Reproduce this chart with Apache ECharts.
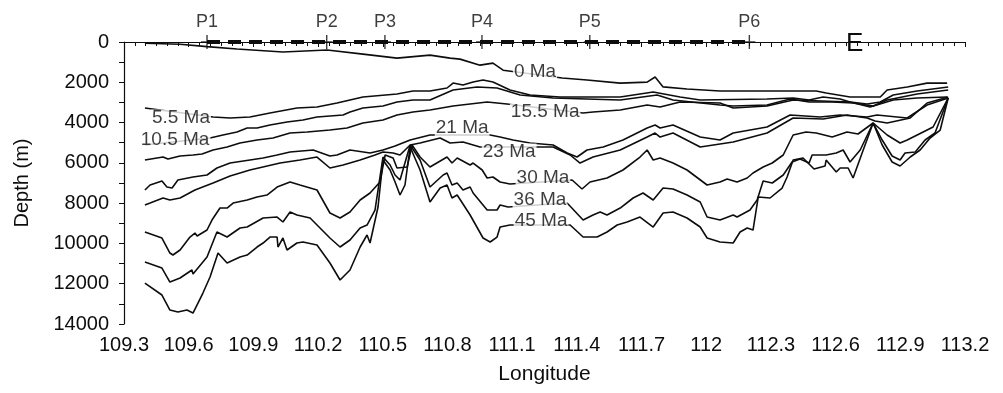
<!DOCTYPE html>
<html><head><meta charset="utf-8">
<script src="https://cdn.jsdelivr.net/npm/echarts@6/dist/echarts.min.js"></script>
<style>html,body{margin:0;padding:0;background:#fff}#c{width:1003px;height:393px}</style>
</head><body><div id="c"></div>
<script>
// Horizon depth profiles: [longitude, depth (m)]
const ma0 = [[109.397,65],[109.56,115],[109.685,230],[109.824,350],[110.037,500],[110.242,400],[110.408,600],[110.566,800],[110.719,650],[110.812,800],[110.858,850],[110.951,1150],[111.011,1050],[111.058,1400],[111.332,1790],[111.447,1890],[111.601,2040],[111.726,1990],[111.763,1740],[111.80,2230],[111.911,2330],[112.064,2430],[112.51,2430],[112.556,2530],[112.667,2730],[112.807,2730],[112.839,2380],[112.932,2230],[113.024,2040],[113.117,2040]];
const ma5_5 = [[109.397,3277],[109.713,3724],[109.792,3773],[109.884,3724],[109.977,3525],[110.102,3277],[110.195,3227],[110.288,3029],[110.408,2731],[110.566,2582],[110.64,2433],[110.719,2433],[110.798,2284],[110.826,2036],[110.872,2135],[110.919,1986],[110.965,1887],[111.011,1986],[111.09,2383],[111.183,2631],[111.322,2731],[111.601,2731],[111.754,2483],[111.879,2731],[111.972,2880],[112.282,2830],[112.403,2780],[112.477,2880],[112.542,2731],[112.621,2830],[112.667,2979],[112.746,3078],[112.807,2979],[112.867,2631],[112.978,2433],[113.122,2234]];
const ma10_5 = [[109.397,5114],[109.699,4766],[109.759,4617],[109.824,4469],[109.871,4270],[109.917,4270],[109.977,4121],[110.056,3972],[110.13,3873],[110.195,3724],[110.316,3624],[110.348,3476],[110.408,3277],[110.501,3178],[110.566,2979],[110.64,2880],[110.719,2880],[110.826,2383],[110.937,2234],[111.03,2284],[111.137,2631],[111.29,2780],[111.601,2880],[111.772,2631],[111.846,2880],[112.064,3128],[112.125,3178],[112.282,3128],[112.389,2830],[112.477,2979],[112.584,2979],[112.681,3029],[112.774,3178],[112.839,2880],[112.978,2582],[113.122,2383]];
const ma15_5 = [[109.397,5859],[109.481,5710],[109.504,5809],[109.56,5660],[109.62,5610],[109.662,5561],[109.713,5362],[109.778,5213],[109.838,5015],[109.917,4866],[109.991,4766],[110.07,4518],[110.149,4469],[110.255,4369],[110.334,4270],[110.408,4022],[110.501,3873],[110.566,3624],[110.64,3476],[110.719,3376],[110.826,3178],[110.984,2979],[111.076,3078],[111.429,3525],[111.475,3476],[111.601,3376],[111.726,3128],[111.786,3227],[111.879,2979],[112.064,3029],[112.125,3277],[112.282,3178],[112.403,2880],[112.667,2979],[112.76,3227],[112.867,2880],[112.978,2780],[113.117,2731]];
const ma21 = [[109.397,7348],[109.421,7100],[109.476,6901],[109.499,7199],[109.523,7249],[109.55,6852],[109.62,6703],[109.685,6603],[109.731,6256],[109.792,6008],[109.884,5859],[109.945,5759],[110.01,5610],[110.07,5462],[110.177,5362],[110.255,5660],[110.288,5610],[110.348,5362],[110.441,5511],[110.501,5362],[110.557,5164],[110.627,4866],[110.719,4617],[110.998,4617],[111.044,4717],[111.104,4866],[111.183,5015],[111.29,5114],[111.355,5511],[111.401,5710],[111.447,5362],[111.522,5213],[111.614,4866],[111.726,4270],[111.763,4121],[111.786,4270],[111.846,4121],[111.972,4717],[112.064,4866],[112.125,4518],[112.282,4220],[112.389,3624],[112.528,3724],[112.621,3624],[112.746,3724],[112.792,3624],[112.932,3773],[113.024,3128],[113.122,2780]];
const ma23 = [[109.397,8093],[109.421,7994],[109.481,7745],[109.513,7845],[109.56,7745],[109.629,7348],[109.713,7001],[109.792,6653],[109.884,6355],[110.024,6008],[110.116,5859],[110.195,5710],[110.255,6256],[110.316,6107],[110.395,5859],[110.464,5610],[110.501,5462],[110.548,5511],[110.58,5610],[110.627,5114],[110.673,5015],[110.766,4766],[110.812,5015],[110.872,4965],[110.951,5213],[111.216,5213],[111.29,5213],[111.369,5610],[111.415,6008],[111.475,5710],[111.601,5362],[111.726,4717],[111.763,4518],[111.786,4717],[111.846,4518],[111.972,5213],[112.125,4965],[112.282,4518],[112.403,3773],[112.542,3823],[112.653,3624],[112.746,3773],[112.783,3922],[112.839,4022],[112.946,3773],[113.024,3029],[113.122,2731]];
const ma30 = [[109.397,9434],[109.476,9731],[109.513,10476],[109.527,10575],[109.56,10327],[109.606,9682],[109.629,9483],[109.639,9632],[109.685,9334],[109.708,8838],[109.745,8242],[109.778,8242],[109.806,7994],[109.871,7845],[109.917,7696],[109.963,7596],[110.01,7199],[110.07,6951],[110.116,7100],[110.195,7348],[110.255,8490],[110.302,8738],[110.348,8441],[110.395,7845],[110.441,7497],[110.487,6951],[110.511,5610],[110.548,5759],[110.566,6256],[110.613,6206],[110.636,5114],[110.673,5710],[110.719,6206],[110.798,5710],[110.821,6008],[110.845,5759],[110.905,6107],[110.919,6008],[110.961,6355],[110.984,6752],[111.011,6703],[111.044,6951],[111.09,7050],[111.378,6852],[111.424,7298],[111.461,6951],[111.54,6752],[111.614,6355],[111.693,5710],[111.726,5362],[111.754,5859],[111.786,5759],[111.846,6008],[111.911,6355],[112.004,7100],[112.064,6951],[112.097,6802],[112.143,6951],[112.19,6752],[112.217,6504],[112.264,6206],[112.306,6008],[112.357,5610],[112.403,4617],[112.463,4469],[112.51,4518],[112.584,4717],[112.653,4469],[112.704,4568],[112.774,4022],[112.839,4617],[112.899,5015],[112.932,4866],[113.006,4469],[113.052,4220],[113.122,2780]];
const ma36 = [[109.397,10923],[109.476,11221],[109.513,11916],[109.56,11717],[109.615,11320],[109.62,11519],[109.685,10675],[109.731,9434],[109.778,9682],[109.838,9235],[109.871,9185],[109.945,8738],[110.01,8689],[110.037,8937],[110.07,8441],[110.102,8589],[110.163,8738],[110.255,9731],[110.302,10178],[110.348,9831],[110.395,9235],[110.427,9086],[110.464,8341],[110.501,5710],[110.534,6107],[110.557,6603],[110.58,6852],[110.627,5114],[110.673,5859],[110.719,7199],[110.78,6603],[110.798,6504],[110.821,7100],[110.845,7001],[110.872,7348],[110.905,7199],[110.919,7497],[110.984,8341],[111.03,8341],[111.044,8093],[111.081,8192],[111.355,7994],[111.429,8838],[111.475,8589],[111.508,8441],[111.54,8589],[111.601,8242],[111.661,7745],[111.707,7497],[111.754,7845],[111.8,7249],[111.846,7298],[111.911,7596],[111.972,7944],[112.004,8689],[112.064,8838],[112.125,8589],[112.143,8689],[112.203,8341],[112.236,7845],[112.264,6901],[112.306,7001],[112.357,6603],[112.398,5958],[112.435,5809],[112.477,6008],[112.491,5610],[112.556,5610],[112.603,5511],[112.635,5362],[112.667,5958],[112.714,5362],[112.774,4022],[112.816,4866],[112.862,5660],[112.899,5859],[112.922,5511],[112.969,5462],[113.015,4866],[113.061,4518],[113.122,2780]];
const ma45 = [[109.397,11966],[109.476,12561],[109.513,13306],[109.55,13406],[109.592,13306],[109.62,13455],[109.666,12462],[109.699,11668],[109.736,10476],[109.778,10973],[109.838,10675],[109.871,10575],[109.917,10178],[109.945,9980],[109.977,9682],[110.01,9682],[110.014,10178],[110.037,9731],[110.056,10327],[110.102,9980],[110.13,9930],[110.195,10079],[110.255,10973],[110.302,11817],[110.348,11320],[110.395,10178],[110.427,9582],[110.441,9980],[110.478,8192],[110.501,5859],[110.534,6355],[110.557,6951],[110.58,7596],[110.603,7100],[110.627,5213],[110.673,6355],[110.719,7944],[110.766,7249],[110.798,7100],[110.821,7745],[110.845,7596],[110.905,8589],[110.965,9731],[110.998,9930],[111.03,9682],[111.044,9185],[111.09,9086],[111.369,9086],[111.429,9682],[111.494,9682],[111.54,9434],[111.587,9086],[111.633,8937],[111.693,8689],[111.754,9185],[111.8,8490],[111.846,8441],[111.911,8738],[111.972,9185],[112.004,9731],[112.064,9930],[112.125,9980],[112.157,9434],[112.19,9235],[112.217,9334],[112.241,7696],[112.296,7745],[112.352,7249],[112.375,6703],[112.403,5859],[112.449,5759],[112.5,6306],[112.551,6157],[112.556,5859],[112.603,6455],[112.621,6256],[112.658,6256],[112.681,6752],[112.728,5362],[112.774,4022],[112.816,5114],[112.862,5958],[112.899,6157],[112.946,5710],[112.992,5362],[113.038,4766],[113.085,4369],[113.122,2780]];

// Horizon labels
const ageNames = ['0 Ma','5.5 Ma','10.5 Ma','15.5 Ma','21 Ma','23 Ma','30 Ma','36 Ma','45 Ma'];
const ageLabelLon = [111.206,109.564,109.537,111.253,110.868,111.086,111.243,111.229,111.234];
const ageLabelDepth = [1490,3773,4866,3476,4270,5462,6752,7845,8887];

// Profile markers along the sea surface
const profileNames = ['P1','P2','P3','P4','P5','P6'];
const profileLon = [109.685,110.24,110.51,110.96,111.46,112.2];

const FONT = 'Liberation Sans, Arial, Helvetica, sans-serif';
const INK = '#0d0d0d';
const horizons = [ma0, ma5_5, ma10_5, ma15_5, ma21, ma23, ma30, ma36, ma45];

const series = horizons.map(d => ({
  type: 'line', data: d, symbol: 'none', silent: true, z: 2,
  lineStyle: { color: INK, width: 1.6 }
}));

series.push({
  type: 'line', z: 3, clip: false, symbol: 'none', silent: true,
  data: [[profileLon[0], 0], [profileLon[profileLon.length - 1], 0]],
  lineStyle: { color: INK, width: 4, type: [13, 8] }
});

series.push({
  type: 'scatter', z: 4, clip: false, silent: true,
  symbol: 'path://M5.3,0H6.7V5.8H12V7.2H6.7V13H5.3V7.2H0V5.8H5.3Z', symbolSize: [12, 14],
  itemStyle: { color: INK },
  data: profileNames.map((n, i) => ({ name: n, value: [profileLon[i], 0] })),
  label: { show: true, position: 'top', distance: 4, formatter: p => p.name,
           fontSize: 18, fontFamily: FONT, color: INK }
});

series.push({
  type: 'scatter', z: 6, clip: false, silent: true, symbolSize: 0,
  data: ageNames.map((n, i) => ({ name: n, value: [ageLabelLon[i], ageLabelDepth[i]] })),
  label: { show: true, position: 'inside', formatter: p => p.name,
           fontSize: 19, lineHeight: 17, fontFamily: FONT, color: INK,
           backgroundColor: '#ffffff', padding: [0, 1] }
});

const chart = echarts.init(document.getElementById('c'), null, { renderer: 'canvas' });
chart.setOption({
  animation: false,
  backgroundColor: '#ffffff',
  title: { text: 'E', left: 841, top: 26,
           textStyle: { fontSize: 26, fontWeight: 'normal', color: INK, fontFamily: FONT } },
  grid: { left: 124, right: 38, top: 42, bottom: 69 },
  xAxis: {
    type: 'value', min: 109.3, max: 113.2, interval: 0.3,
    name: 'Longitude', nameLocation: 'middle', nameGap: 40,
    nameTextStyle: { fontSize: 21, fontFamily: FONT, color: INK },
    axisLine: { show: true, lineStyle: { color: INK, width: 1.2 } },
    axisTick: { show: true, length: 5, lineStyle: { color: INK } },
    minorTick: { show: true, splitNumber: 6, length: 4, lineStyle: { color: INK } },
    splitLine: { show: false },
    axisLabel: { fontSize: 20, fontFamily: FONT, color: INK, margin: 11,
                 formatter: v => String(Math.round(v * 10) / 10) }
  },
  yAxis: {
    type: 'value', inverse: true, min: 0, max: 14000, interval: 2000,
    name: 'Depth (m)', nameLocation: 'middle', nameGap: 92, nameRotate: 90,
    nameTextStyle: { fontSize: 20, fontFamily: FONT, color: INK },
    axisLine: { show: true, lineStyle: { color: INK, width: 1.2 } },
    axisTick: { show: true, length: 5, lineStyle: { color: INK } },
    minorTick: { show: true, splitNumber: 2, length: 5, lineStyle: { color: INK } },
    splitLine: { show: false },
    axisLabel: { fontSize: 20, fontFamily: FONT, color: INK, margin: 15,
                 formatter: v => String(v) }
  },
  series: series
});
</script></body></html>
